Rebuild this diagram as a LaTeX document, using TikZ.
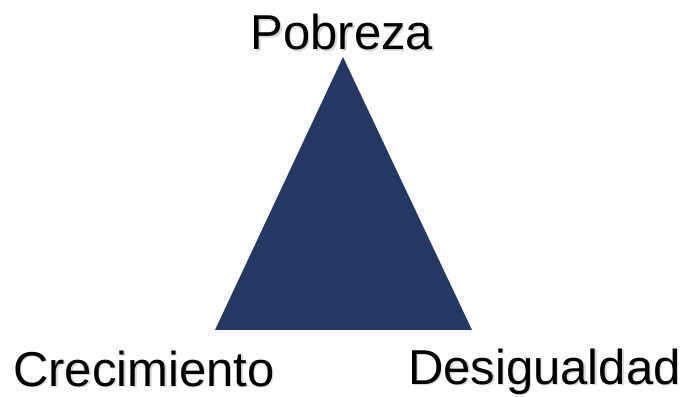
\documentclass[tikz,border=0pt]{standalone}
\usepackage{fontspec}
\setmainfont{Liberation Sans}
\definecolor{navy}{HTML}{243862}
\begin{document}
\begin{tikzpicture}[x=1pt,y=1pt,
  lbl/.style={inner sep=0pt, font=\fontsize{49}{49}\selectfont},
  shadowlbl/.style={lbl, text=black!30, opacity=0.5}]
\useasboundingbox (0,0) rectangle (682,396);
\coordinate (top) at (343,339);
\coordinate (bl) at (215,66);
\coordinate (br) at (472,66);
\fill[navy] (top) -- (bl) -- (br) -- cycle;
% shadows
\node[shadowlbl, anchor=base] at (343.5,344.5) {Pobreza};
\node[shadowlbl, anchor=base west] at (14.5,8.5) {Crecimiento};
\node[shadowlbl, anchor=base west] at (409.5,10.5) {Desigualdad};
% labels
\node[lbl, anchor=base] (pob) at (342,346) {Pobreza};
\node[lbl, anchor=base west] (cre) at (13,10) {Crecimiento};
\node[lbl, anchor=base west] (des) at (408,12) {Desigualdad};
\end{tikzpicture}
\end{document}
